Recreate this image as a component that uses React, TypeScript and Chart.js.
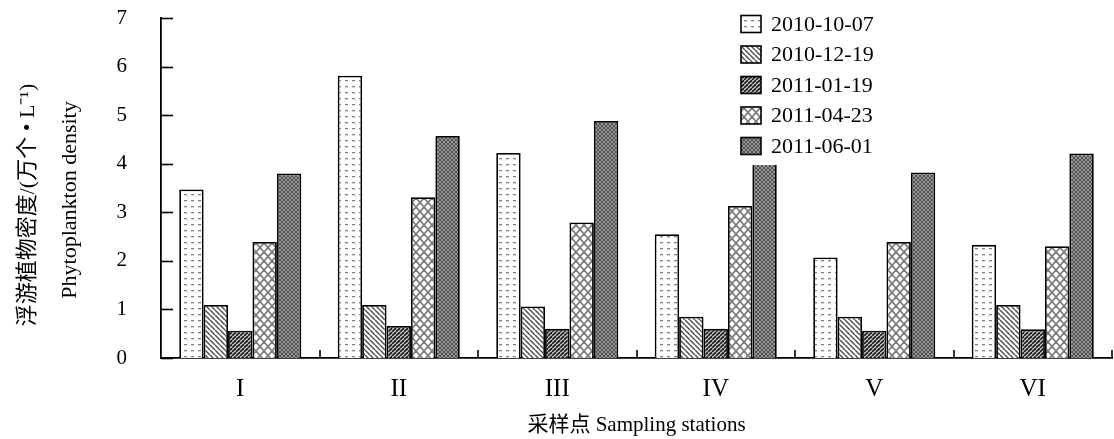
import React, { useEffect, useRef } from "react";
import { Chart, registerables } from "chart.js";

Chart.register(...registerables);

const stations = ["I", "II", "III", "IV", "V", "VI"];
const seriesLabels = ["2010-10-07", "2010-12-19", "2011-01-19", "2011-04-23", "2011-06-01"];
const s20101007 = [3.47, 5.81, 4.22, 2.55, 2.07, 2.33];
const s20101219 = [1.09, 1.09, 1.06, 0.85, 0.85, 1.09];
const s20110119 = [0.56, 0.66, 0.6, 0.6, 0.56, 0.59];
const s20110423 = [2.39, 3.31, 2.79, 3.13, 2.39, 2.3];
const s20110601 = [3.8, 4.57, 4.88, 4.5, 3.82, 4.21];
const yMin = 0;
const yMax = 7;
const yStep = 1;
const yTitleZh = "浮游植物密度/(万个 • L⁻¹)";
const yTitleEn = "Phytoplankton density";
const xTitle = "采样点 Sampling stations";

const FONT = "'Liberation Serif', 'Noto Sans CJK SC', serif";

function makePattern(kind: number): CanvasPattern | string {
  const c = document.createElement("canvas");
  const ctx = c.getContext("2d");
  if (!ctx) return "#ccc";
  const line = (x1: number, y1: number, x2: number, y2: number) => {
    ctx.beginPath();
    ctx.moveTo(x1, y1);
    ctx.lineTo(x2, y2);
    ctx.stroke();
  };
  if (kind === 0) {
    c.width = 7;
    c.height = 6;
    ctx.fillStyle = "#fff";
    ctx.fillRect(0, 0, 7, 6);
    ctx.fillStyle = "#808080";
    ctx.fillRect(2, 2, 3, 1.3);
  } else if (kind === 1) {
    const s = 5;
    c.width = s;
    c.height = s;
    ctx.fillStyle = "#fff";
    ctx.fillRect(0, 0, s, s);
    ctx.strokeStyle = "#505050";
    ctx.lineWidth = 1.5;
    for (let k = -1; k <= 1; k++) line(k * s, 0, k * s + s, s);
  } else if (kind === 2) {
    const s = 4;
    c.width = s;
    c.height = s;
    ctx.fillStyle = "#d0d0d0";
    ctx.fillRect(0, 0, s, s);
    ctx.strokeStyle = "#222";
    ctx.lineWidth = 1.8;
    for (let k = -1; k <= 1; k++) line(k * s, s, k * s + s, 0);
  } else if (kind === 3) {
    const w = 8;
    const h = 9;
    c.width = w;
    c.height = h;
    ctx.fillStyle = "#fff";
    ctx.fillRect(0, 0, w, h);
    ctx.strokeStyle = "#7a7a7a";
    ctx.lineWidth = 1.7;
    for (let k = -1; k <= 1; k++) {
      line(k * w, 0, k * w + w, h);
      line(k * w, h, k * w + w, 0);
    }
  } else {
    const s = 4;
    c.width = s;
    c.height = s;
    ctx.fillStyle = "#b6b6b6";
    ctx.fillRect(0, 0, s, s);
    ctx.strokeStyle = "#505050";
    ctx.lineWidth = 1.2;
    for (let k = -1; k <= 1; k++) {
      line(k * s, 0, k * s + s, s);
      line(k * s, s, k * s + s, 0);
    }
  }
  return ctx.createPattern(c, "repeat") || "#ccc";
}

const axisTicksPlugin = {
  id: "axisTicks",
  afterDraw(chart: any) {
    const { ctx, chartArea } = chart;
    const y = chart.scales.y;
    const x = chart.scales.x;
    ctx.save();
    ctx.strokeStyle = "#000";
    ctx.lineWidth = 1.6;
    for (let v = yMin; v <= yMax; v += yStep) {
      const py = Math.round(y.getPixelForValue(v)) + 0.5;
      ctx.beginPath();
      ctx.moveTo(chartArea.left, py);
      ctx.lineTo(chartArea.left + 12, py);
      ctx.stroke();
    }
    const n = stations.length;
    const w = (x.getPixelForValue(n - 1) - x.getPixelForValue(0)) / (n - 1);
    for (let i = 0; i < n; i++) {
      const px = Math.round(x.getPixelForValue(i) + w / 2);
      ctx.beginPath();
      ctx.moveTo(px, chartArea.bottom);
      ctx.lineTo(px, chartArea.bottom - 8);
      ctx.stroke();
    }
    ctx.restore();
  },
};

const yTitlePlugin = {
  id: "yTitles",
  afterDraw(chart: any) {
    const { ctx } = chart;
    const draw = (text: string, cx: number, cy: number) => {
      ctx.save();
      ctx.fillStyle = "#000";
      ctx.textAlign = "center";
      ctx.textBaseline = "middle";
      ctx.font = `22px ${FONT}`;
      ctx.translate(cx, cy);
      ctx.rotate(-Math.PI / 2);
      ctx.fillText(text, 0, 0);
      ctx.restore();
    };
    draw(yTitleZh, 28, 205);
    draw(yTitleEn, 70, 200);
  },
};

const legendPlugin = {
  id: "boxLegend",
  afterDatasetsDraw(chart: any) {
    const { ctx } = chart;
    ctx.save();
    ctx.fillStyle = "#fff";
    ctx.fillRect(735, 4, 168, 161);
    chart.data.datasets.forEach((ds: any, i: number) => {
      const cy = 24 + i * 30.5;
      ctx.fillStyle = ds.backgroundColor;
      ctx.fillRect(741, cy - 8.5, 20, 17);
      ctx.strokeStyle = "#000";
      ctx.lineWidth = 1.6;
      ctx.strokeRect(741, cy - 8.5, 20, 17);
      ctx.fillStyle = "#000";
      ctx.font = `22px ${FONT}`;
      ctx.textAlign = "left";
      ctx.textBaseline = "middle";
      ctx.fillText(ds.label, 771, cy + 1);
    });
    ctx.restore();
  },
};

export default function App() {
  const ref = useRef<HTMLCanvasElement | null>(null);
  useEffect(() => {
    if (!ref.current) return;
    const series = [s20101007, s20101219, s20110119, s20110423, s20110601];
    const chart = new Chart(ref.current, {
      type: "bar",
      data: {
        labels: stations,
        datasets: series.map((d, i) => ({
          label: seriesLabels[i],
          data: d,
          backgroundColor: makePattern(i) as any,
          borderColor: "#000",
          borderWidth: 1.8,
          categoryPercentage: 0.77,
          barPercentage: 1,
        })),
      },
      options: {
        responsive: false,
        animation: false,
        layout: { padding: { top: 18, right: 2, left: 0, bottom: 0 } },
        plugins: { legend: { display: false }, tooltip: { enabled: false } },
        scales: {
          x: {
            grid: { display: false, drawTicks: false },
            border: { display: true, color: "#000", width: 1.8 },
            ticks: { color: "#000", font: { family: FONT, size: 25 }, padding: 16 },
            title: {
              display: true,
              text: xTitle,
              color: "#000",
              font: { family: FONT, size: 21 },
              padding: { top: 0, bottom: 1 },
            },
            afterFit: (s: any) => {
              s.height = 81;
              s.paddingLeft = 0;
              s.paddingRight = 0;
            },
          },
          y: {
            min: yMin,
            max: yMax,
            grid: { display: false, drawTicks: false },
            border: { display: true, color: "#000", width: 1.8 },
            ticks: { stepSize: yStep, color: "#000", font: { family: FONT, size: 21 }, padding: 34 },
            afterFit: (s: any) => {
              s.width = 161;
              s.paddingTop = 0;
              s.paddingBottom = 0;
            },
          },
        },
      },
      plugins: [axisTicksPlugin, legendPlugin, yTitlePlugin],
    });
    return () => chart.destroy();
  }, []);
  return (
    <div style={{ position: "absolute", left: 0, top: 0, width: 1114, height: 439, background: "#fff" }}>
      <canvas ref={ref} width={1114} height={439} style={{ display: "block" }} />
    </div>
  );
}
